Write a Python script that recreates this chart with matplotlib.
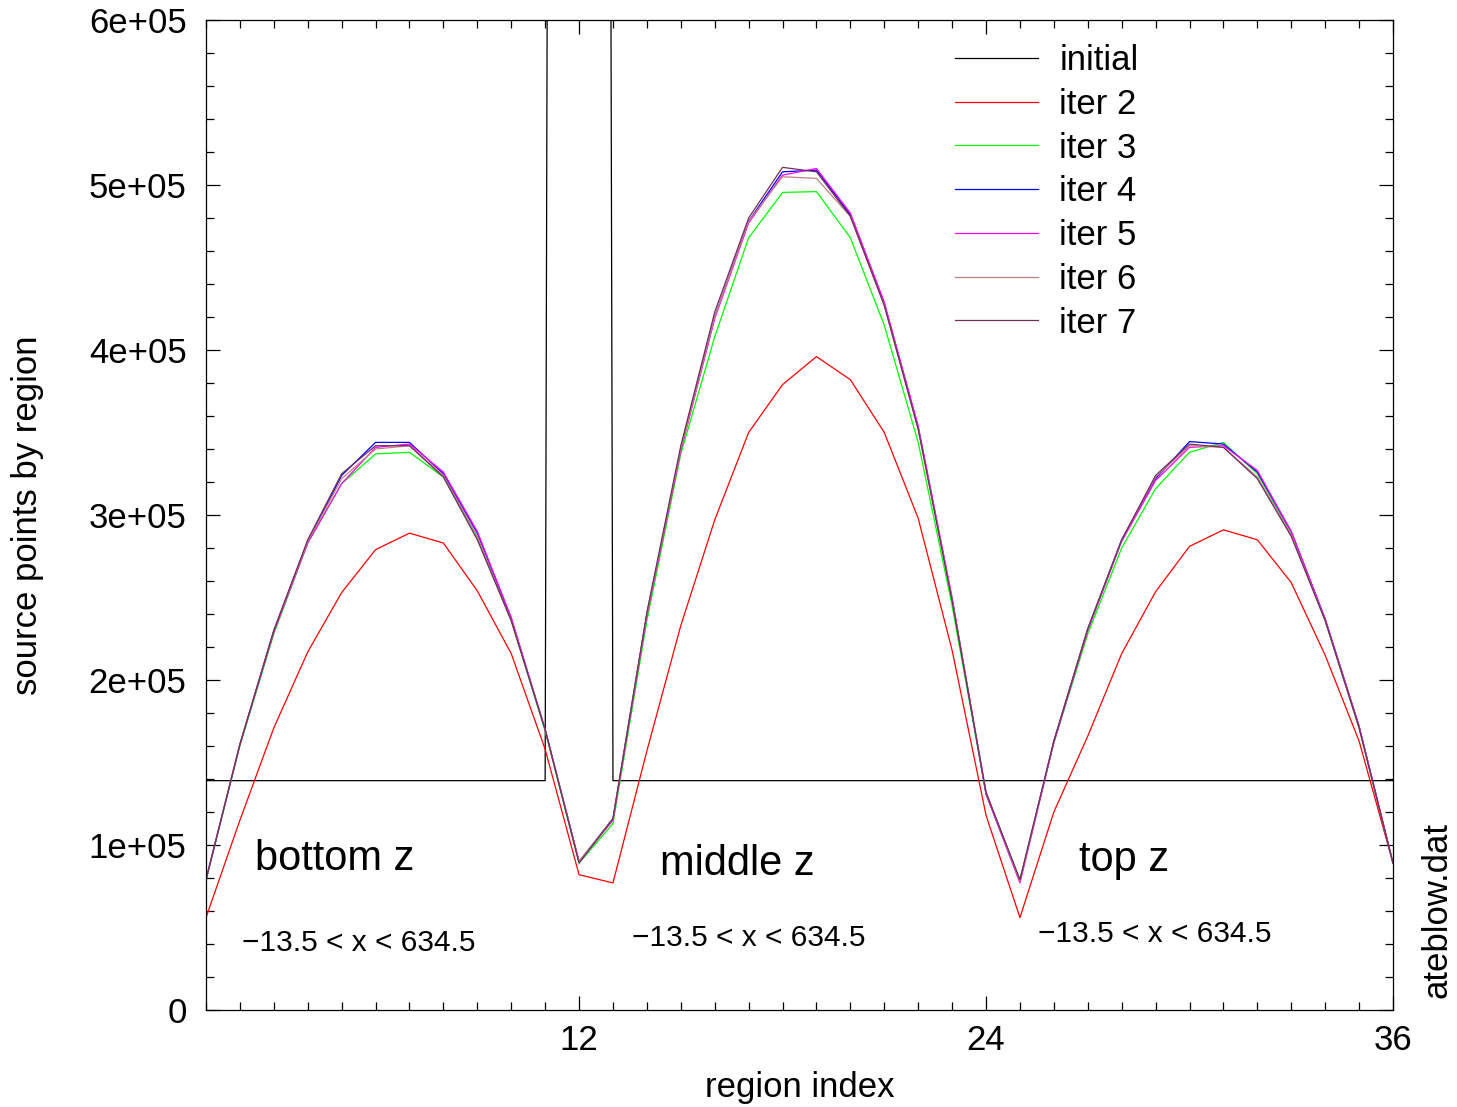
import numpy as np
import matplotlib
matplotlib.use("Agg")
import matplotlib.pyplot as plt
from matplotlib.ticker import MultipleLocator, FuncFormatter

plt.rcParams['font.family'] = ['Liberation Sans', 'DejaVu Sans']

region = list(range(1, 37))

initial = [1.39e5] * 11 + [8.0e6] + [1.39e5] * 24

iter2 = [0.56e5, 1.15e5, 1.71e5, 2.17e5, 2.53e5, 2.79e5, 2.89e5, 2.83e5, 2.54e5, 2.16e5,
         1.58e5, 0.82e5, 0.77e5, 1.57e5, 2.33e5, 2.97e5, 3.50e5, 3.79e5, 3.96e5, 3.82e5,
         3.50e5, 2.98e5, 2.18e5, 1.18e5, 0.56e5, 1.20e5, 1.66e5, 2.16e5, 2.535e5, 2.81e5,
         2.91e5, 2.85e5, 2.59e5, 2.15e5, 1.63e5, 0.89e5]

iter3 = [0.79e5, 1.60e5, 2.28e5, 2.83e5, 3.19e5, 3.37e5, 3.38e5, 3.23e5, 2.86e5, 2.36e5,
         1.69e5, 0.89e5, 1.13e5, 2.36e5, 3.37e5, 4.08e5, 4.68e5, 4.955e5, 4.96e5, 4.68e5,
         4.15e5, 3.44e5, 2.45e5, 1.31e5, 0.79e5, 1.62e5, 2.28e5, 2.80e5, 3.16e5, 3.38e5,
         3.44e5, 3.25e5, 2.89e5, 2.36e5, 1.71e5, 0.89e5]

iter4 = [0.79e5, 1.61e5, 2.30e5, 2.84e5, 3.24e5, 3.44e5, 3.44e5, 3.25e5, 2.89e5, 2.37e5,
         1.70e5, 0.90e5, 1.16e5, 2.40e5, 3.40e5, 4.20e5, 4.78e5, 5.08e5, 5.09e5, 4.82e5,
         4.28e5, 3.53e5, 2.49e5, 1.31e5, 0.78e5, 1.63e5, 2.31e5, 2.85e5, 3.22e5, 3.445e5,
         3.43e5, 3.26e5, 2.90e5, 2.37e5, 1.72e5, 0.89e5]

iter5 = [0.79e5, 1.61e5, 2.29e5, 2.83e5, 3.19e5, 3.41e5, 3.43e5, 3.26e5, 2.90e5, 2.38e5,
         1.70e5, 0.90e5, 1.15e5, 2.39e5, 3.39e5, 4.19e5, 4.77e5, 5.06e5, 5.10e5, 4.83e5,
         4.29e5, 3.54e5, 2.50e5, 1.31e5, 0.77e5, 1.62e5, 2.30e5, 2.84e5, 3.21e5, 3.41e5,
         3.42e5, 3.27e5, 2.90e5, 2.37e5, 1.72e5, 0.89e5]

iter6 = [0.79e5, 1.61e5, 2.30e5, 2.84e5, 3.22e5, 3.40e5, 3.42e5, 3.24e5, 2.87e5, 2.36e5,
         1.70e5, 0.90e5, 1.16e5, 2.40e5, 3.40e5, 4.20e5, 4.78e5, 5.05e5, 5.04e5, 4.81e5,
         4.27e5, 3.52e5, 2.49e5, 1.32e5, 0.78e5, 1.63e5, 2.31e5, 2.85e5, 3.23e5, 3.42e5,
         3.41e5, 3.23e5, 2.88e5, 2.36e5, 1.71e5, 0.89e5]

iter7 = [0.79e5, 1.61e5, 2.30e5, 2.85e5, 3.25e5, 3.42e5, 3.42e5, 3.23e5, 2.85e5, 2.36e5,
         1.70e5, 0.89e5, 1.16e5, 2.41e5, 3.42e5, 4.23e5, 4.80e5, 5.107e5, 5.08e5, 4.81e5,
         4.27e5, 3.52e5, 2.48e5, 1.32e5, 0.79e5, 1.63e5, 2.31e5, 2.85e5, 3.24e5, 3.43e5,
         3.41e5, 3.22e5, 2.87e5, 2.36e5, 1.71e5, 0.89e5]

series = [("initial", initial, "#000000"),
          ("iter 2", iter2, "#ff0000"),
          ("iter 3", iter3, "#00ff00"),
          ("iter 4", iter4, "#0000ff"),
          ("iter 5", iter5, "#ff00ff"),
          ("iter 6", iter6, "#c08080"),
          ("iter 7", iter7, "#70305a")]

zone_labels = ["bottom z", "middle z", "top z"]
range_label = "\u221213.5 < x < 634.5"

fig = plt.figure(figsize=(14.57, 11.07), dpi=100)
ax = fig.add_axes([206/1457, 1-1010/1107, (1393-206)/1457, (1010-20)/1107])

for name, vals, col in series:
    ax.plot(region, vals, color=col, lw=0.9, label=name)

ax.set_xlim(1, 36)
ax.set_ylim(0, 6e5)
ax.xaxis.set_major_locator(MultipleLocator(12))
ax.xaxis.set_minor_locator(MultipleLocator(1))
ax.yaxis.set_major_locator(MultipleLocator(1e5))
ax.yaxis.set_minor_locator(MultipleLocator(2e4))

def yfmt(v, pos):
    if v == 0:
        return "0"
    return "%de+05" % round(v / 1e5)
ax.yaxis.set_major_formatter(FuncFormatter(yfmt))

ax.tick_params(which='both', direction='in', top=True, right=True, labelsize=25, width=0.9)
ax.tick_params(which='major', length=10)
ax.tick_params(which='minor', length=6)
ax.tick_params(axis='y', pad=14)
ax.tick_params(axis='x', pad=10)
for s in ax.spines.values():
    s.set_linewidth(0.9)

ax.set_xlabel("region index", fontsize=25, labelpad=10)
ax.set_ylabel("source points by region", fontsize=25, labelpad=32)

# zone annotations
ax.text(2.44, 0.85e5, zone_labels[0], fontsize=30)
ax.text(14.39, 0.82e5, zone_labels[1], fontsize=30)
ax.text(26.74, 0.84e5, zone_labels[2], fontsize=30)
ax.text(2.06, 0.36e5, range_label, fontsize=21.5)
ax.text(13.56, 0.39e5, range_label, fontsize=21.5)
ax.text(25.54, 0.41e5, range_label, fontsize=21.5)

fig.text(1437/1457, 1-910/1107, "ateblow.dat", rotation=90, fontsize=25,
         ha='center', va='center')

leg = ax.legend(loc='upper left', bbox_to_anchor=(955/1457, 1-44/1107),
                bbox_transform=fig.transFigure, frameon=False, fontsize=25,
                handlelength=2.4, handletextpad=0.6, labelspacing=0.31,
                borderpad=0, borderaxespad=0)

fig.savefig("out.png", dpi=100)
